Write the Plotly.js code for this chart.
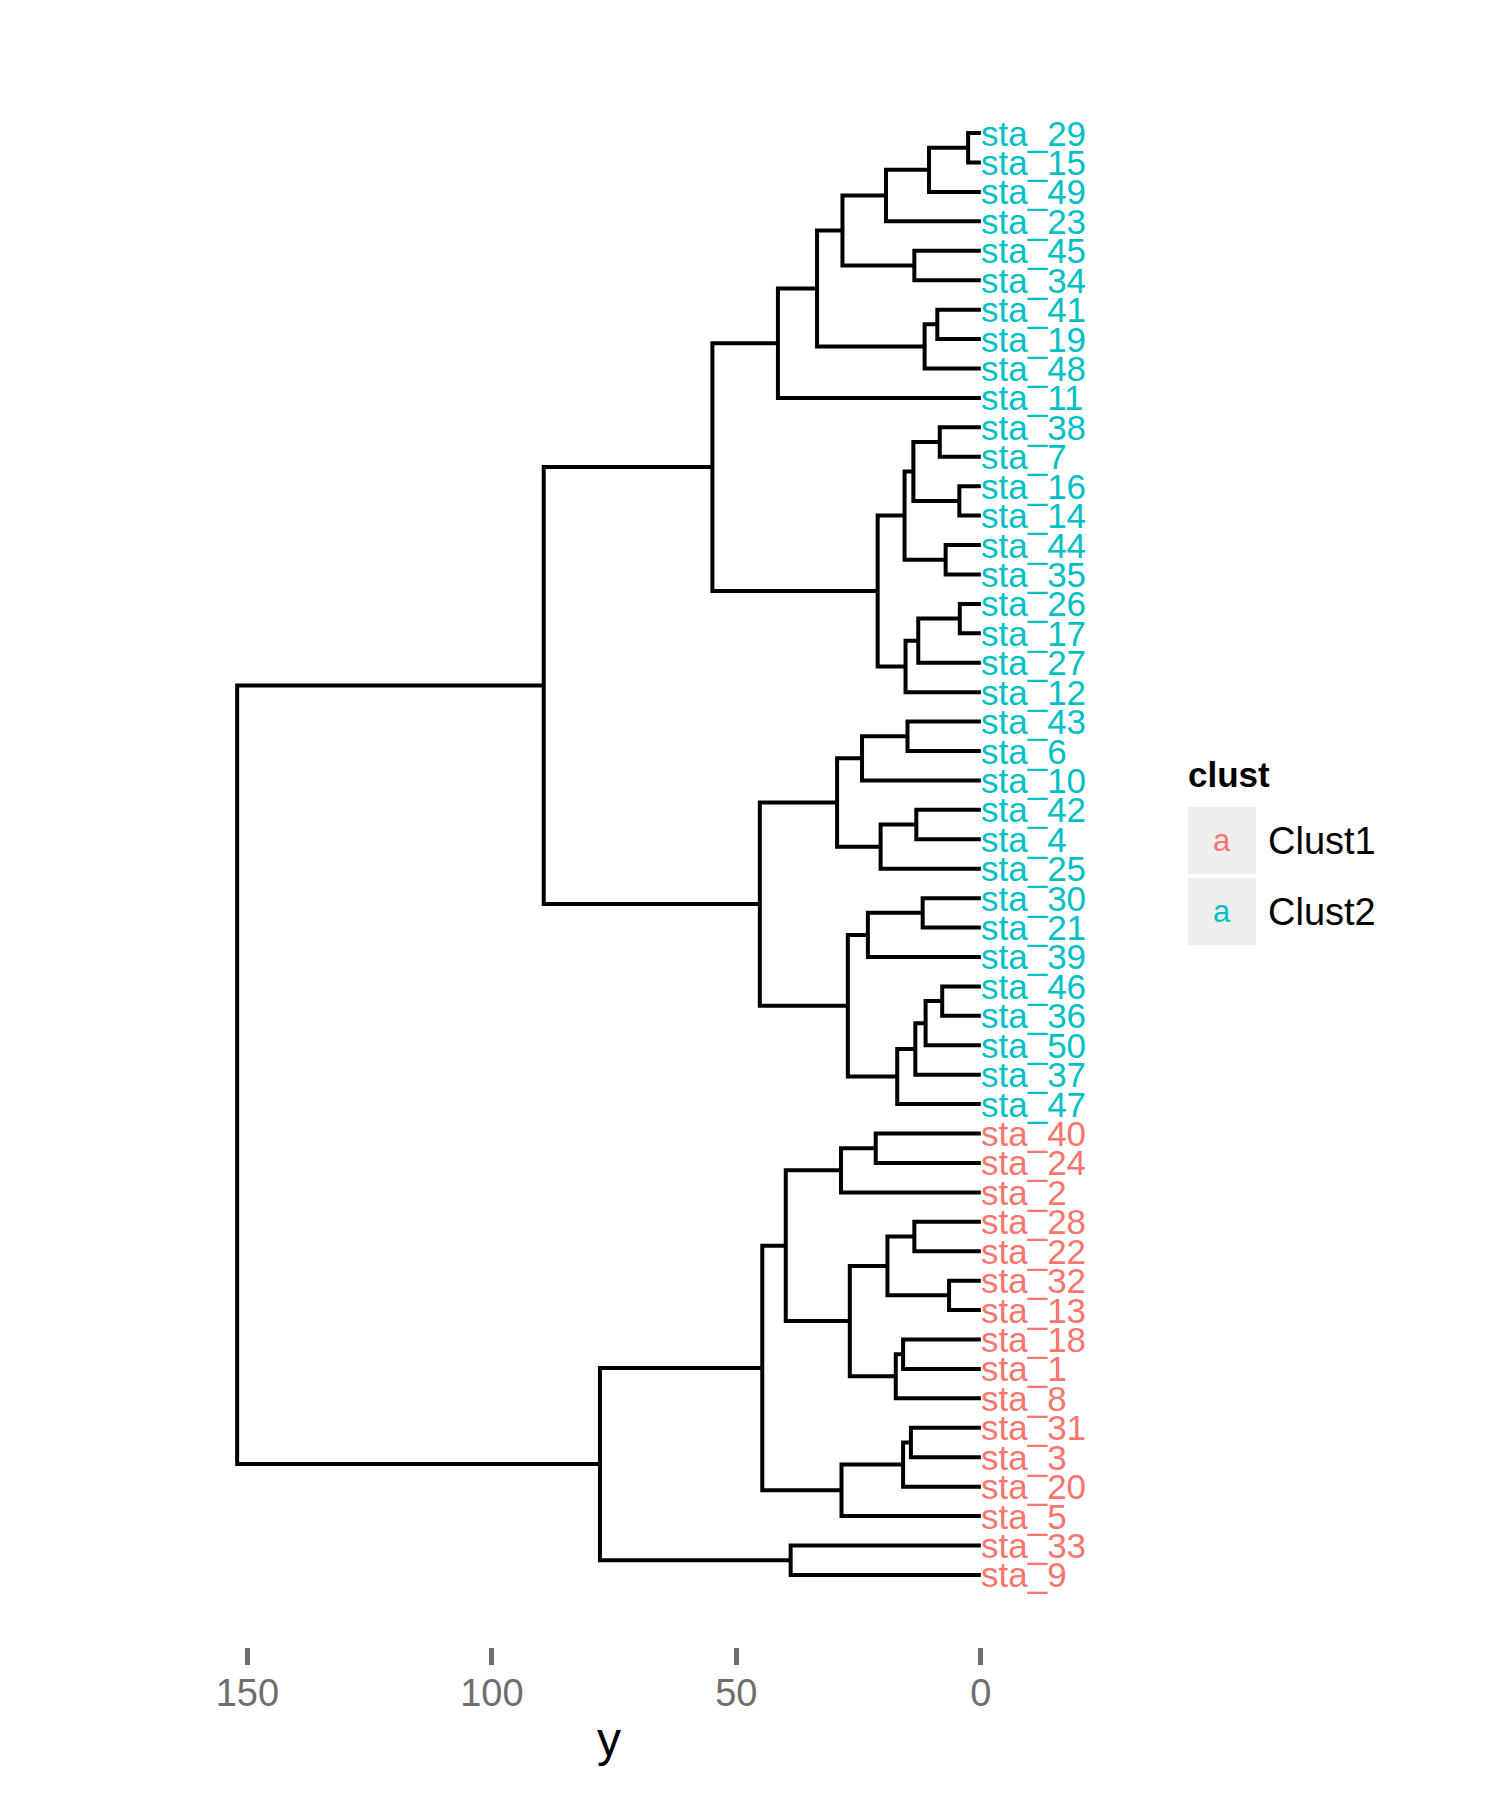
<!DOCTYPE html>
<html>
<head>
<meta charset="utf-8">
<script src="https://cdn.plot.ly/plotly-3.0.1.min.js"></script>
<style>html,body{margin:0;padding:0;background:#fff;}#chart{width:1500px;height:1800px;}</style>
</head>
<body>
<div id="chart"></div>
<script>
// Leaf labels, top to bottom
const leafLabels = ["sta_29","sta_15","sta_49","sta_23","sta_45","sta_34","sta_41","sta_19","sta_48","sta_11",
  "sta_38","sta_7","sta_16","sta_14","sta_44","sta_35","sta_26","sta_17","sta_27","sta_12",
  "sta_43","sta_6","sta_10","sta_42","sta_4","sta_25","sta_30","sta_21","sta_39","sta_46",
  "sta_36","sta_50","sta_37","sta_47","sta_40","sta_24","sta_2","sta_28","sta_22","sta_32",
  "sta_13","sta_18","sta_1","sta_8","sta_31","sta_3","sta_20","sta_5","sta_33","sta_9"];
// Cluster of each leaf
const leafCluster = ["Clust2","Clust2","Clust2","Clust2","Clust2","Clust2","Clust2","Clust2","Clust2","Clust2",
  "Clust2","Clust2","Clust2","Clust2","Clust2","Clust2","Clust2","Clust2","Clust2","Clust2",
  "Clust2","Clust2","Clust2","Clust2","Clust2","Clust2","Clust2","Clust2","Clust2","Clust2",
  "Clust2","Clust2","Clust2","Clust2","Clust1","Clust1","Clust1","Clust1","Clust1","Clust1",
  "Clust1","Clust1","Clust1","Clust1","Clust1","Clust1","Clust1","Clust1","Clust1","Clust1"];
// Merge table: negative = leaf (1-based position in leafLabels), positive = earlier merge step (1-based)
const mergeLeft  = [-1, 1, 2, -5, 3, -7, 6, 5, 8, -11, -13, 10, -15, 12, -17, 15, 16, 14, 9,
  -21, 20, -24, 22, 21, -27, 25, -30, 27, 28, 29, 26, 24, 19,
  -35, 34, -38, -40, 36, -42, 39, 38, 35, -45, 43, 44, 42, -49, 46, 33];
const mergeRight = [-2, -3, -4, -6, 4, -8, -9, 7, -10, -12, -14, 11, -16, 13, -18, -19, -20, 17, 18,
  -22, -23, -25, -26, 23, -28, -29, -31, -32, -33, -34, 30, 31, 32,
  -36, -37, -39, -41, 37, -43, -44, 40, 41, -46, -47, -48, 45, -50, 47, 48];
const mergeHeight = [2.6, 10.6, 19.4, 13.6, 28.3, 8.9, 11.5, 33.5, 41.5, 8.4, 4.4, 13.8, 7.2, 15.6, 4.3, 12.8, 15.4, 21.1, 54.9,
  15.0, 24.3, 13.2, 20.5, 29.4, 11.9, 23.1, 7.9, 11.3, 13.4, 17.1, 27.2, 45.2, 89.4,
  21.5, 28.6, 13.6, 6.5, 19.1, 15.9, 17.4, 26.8, 39.9, 14.3, 15.9, 28.5, 44.7, 38.9, 77.9, 152.1];
const tickVals = [0, 50, 100, 150];
const tickText = ["0", "50", "100", "150"];
const clusterNames = ["Clust1", "Clust2"];
const clusterColors = {"Clust1": "#F8766D", "Clust2": "#00BFC4"};

// Build segments from the merge table
const nodePos = [], nodeH = [];
function ref(r) {
  if (r < 0) return {p: -r, h: 0};
  return {p: nodePos[r - 1], h: nodeH[r - 1]};
}
const segX = [], segY = [];
for (let k = 0; k < mergeHeight.length; k++) {
  const a = ref(mergeLeft[k]), b = ref(mergeRight[k]);
  const h = mergeHeight[k];
  nodePos.push((a.p + b.p) / 2);
  nodeH.push(h);
  segX.push(a.h, h, h, b.h, null);
  segY.push(a.p, a.p, b.p, b.p, null);
}

const FONT = "Liberation Sans, Arial, Helvetica, sans-serif";
const traces = [{
  type: "scatter", mode: "lines", x: segX, y: segY,
  line: {color: "#000000", width: 4}, hoverinfo: "skip", showlegend: false
}];

const annotations = [];
// Leaf labels placed at height 0 of each leaf through the data axes
leafLabels.forEach(function (l, i) {
  annotations.push({xref: "x", yref: "y", x: 0, y: i + 1, xanchor: "left", yanchor: "middle",
    text: l, showarrow: false, yshift: 0, xshift: -2,
    font: {family: FONT, size: 35, color: clusterColors[leafCluster[i]]}});
});

// Manual legend (pixel positions converted to paper coordinates)
const L = 200, R = 482, T = 61, B = 153, W = 1500, H = 1800;
const pw = W - L - R, ph = H - T - B;
function px(x) { return (x - L) / pw; }
function py(y) { return (H - B - y) / ph; }
const shapes = [];
annotations.push({xref: "paper", yref: "paper", x: px(1186), y: py(774), xanchor: "left", yanchor: "middle",
  text: "<b>clust</b>", showarrow: false, font: {family: FONT, size: 35, color: "#000"}});
clusterNames.forEach(function (c, i) {
  const top = 807 + i * 71, bot = top + 67;
  shapes.push({type: "rect", xref: "paper", yref: "paper", x0: px(1188), x1: px(1256), y0: py(bot), y1: py(top),
    fillcolor: "#EEEEEE", line: {width: 0}, layer: "below"});
  annotations.push({xref: "paper", yref: "paper", x: px(1222), y: py((top + bot) / 2), xanchor: "center", yanchor: "middle",
    text: "a", showarrow: false, font: {family: FONT, size: 31, color: clusterColors[c]}});
  annotations.push({xref: "paper", yref: "paper", x: px(1266), y: py((top + bot) / 2), xanchor: "left", yanchor: "middle",
    text: c, showarrow: false, font: {family: FONT, size: 38, color: "#000"}});
});

const layout = {
  width: W, height: H,
  margin: {l: L, r: R, t: T, b: B, pad: 0},
  paper_bgcolor: "#ffffff", plot_bgcolor: "#ffffff",
  showlegend: false,
  xaxis: {
    range: [159.7, -7.6], showgrid: false, zeroline: false, showline: false,
    tickmode: "array", tickvals: tickVals, ticktext: tickText,
    ticks: "outside", ticklen: 17, tickwidth: 5, tickcolor: "#6E6E6E",
    ticklabelstandoff: -5,
    tickfont: {family: FONT, size: 38, color: "#6E6E6E"},
    title: {text: "y", font: {family: FONT, size: 48, color: "#000"}, standoff: 9}
  },
  yaxis: {
    range: [52.45, -1.45], showgrid: false, zeroline: false, showline: false,
    showticklabels: false, ticks: ""
  },
  shapes: shapes, annotations: annotations
};
Plotly.newPlot("chart", traces, layout, {displayModeBar: false, staticPlot: true});
</script>
</body>
</html>
